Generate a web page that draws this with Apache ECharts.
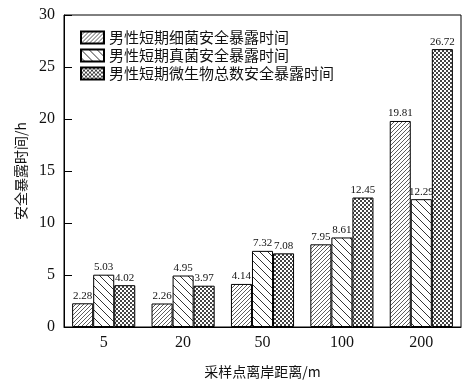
<!DOCTYPE html>
<html><head><meta charset="utf-8">
<script src="https://cdn.jsdelivr.net/npm/echarts@6/dist/echarts.min.js"></script>
<style>html,body{margin:0;padding:0;background:#fff}#c{width:473px;height:384px}</style>
</head><body><div id="c"></div>
<script>
const categories = ['5', '20', '50', '100', '200'];
const seriesNames = ['男性短期细菌安全暴露时间', '男性短期真菌安全暴露时间', '男性短期微生物总数安全暴露时间'];
const bacteria = [2.28, 2.26, 4.14, 7.95, 19.81];
const fungi = [5.03, 4.95, 7.32, 8.61, 12.29];
const total = [4.02, 3.97, 7.08, 12.45, 26.72];
const yTicks = [0, 5, 10, 15, 20, 25, 30];

function hatch(size, dir, lw, col) {
  const c = document.createElement('canvas');
  c.width = c.height = size;
  const x = c.getContext('2d');
  x.fillStyle = '#fff'; x.fillRect(0, 0, size, size);
  x.strokeStyle = col; x.lineWidth = lw;
  for (const o of [-size, 0, size]) {
    x.beginPath();
    if (dir === '/') { x.moveTo(o, size); x.lineTo(o + size, 0); }
    else { x.moveTo(o, 0); x.lineTo(o + size, size); }
    x.stroke();
  }
  return { image: c, repeat: 'repeat' };
}
function checker(cell, col) {
  const c = document.createElement('canvas');
  c.width = c.height = cell * 2;
  const x = c.getContext('2d');
  x.fillStyle = '#fff'; x.fillRect(0, 0, cell * 2, cell * 2);
  x.fillStyle = col;
  x.fillRect(0, 0, cell, cell); x.fillRect(cell, cell, cell, cell);
  return { image: c, repeat: 'repeat' };
}
const fills = [hatch(4, '/', 0.8, '#333'), hatch(8, '\\', 1, '#333'), checker(2, '#444')];
const datas = [bacteria, fungi, total];
const serif = '"Liberation Serif", "Times New Roman", serif';
const cjk = '"Noto Sans CJK SC", sans-serif';

const chart = echarts.init(document.getElementById('c'));
chart.setOption({
  animation: false,
  grid: { left: 64, right: 12, top: 15, bottom: 50, show: true, borderColor: '#000', borderWidth: 1 },
  legend: {
    orient: 'vertical', left: 75, top: 25, itemWidth: 23, itemHeight: 12, itemGap: 3,
    icon: 'rect',
    textStyle: { fontFamily: cjk, fontSize: 15, color: '#111' },
    data: seriesNames
  },
  xAxis: {
    type: 'category', data: categories,
    name: '采样点离岸距离/m', nameLocation: 'middle', nameGap: 38,
    nameTextStyle: { fontFamily: cjk, fontSize: 14, color: '#111' },
    axisLine: { lineStyle: { color: '#000', width: 1 } },
    axisTick: { show: false },
    axisLabel: { fontFamily: serif, fontSize: 16, color: '#111', margin: 8 }
  },
  yAxis: {
    type: 'value', min: yTicks[0], max: yTicks[yTicks.length - 1], interval: 5,
    name: '安全暴露时间/h', nameLocation: 'middle', nameGap: 35,
    nameTextStyle: { fontFamily: cjk, fontSize: 14, color: '#111' },
    axisLine: { show: true, lineStyle: { color: '#000', width: 1 } },
    axisTick: { show: true, inside: true, length: 8, lineStyle: { color: '#000' } },
    splitLine: { show: false },
    axisLabel: { fontFamily: serif, fontSize: 16, color: '#111', margin: 9 }
  },
  series: seriesNames.map((n, i) => ({
    name: n, type: 'bar', data: datas[i],
    barWidth: '26.5%', barGap: '0%',
    itemStyle: { color: fills[i], borderColor: '#000', borderWidth: 1 },
    label: { show: true, position: 'top', distance: 2, fontFamily: serif, fontSize: 11, color: '#111',
      formatter: p => p.value.toFixed(2) }
  }))
});
</script></body></html>
